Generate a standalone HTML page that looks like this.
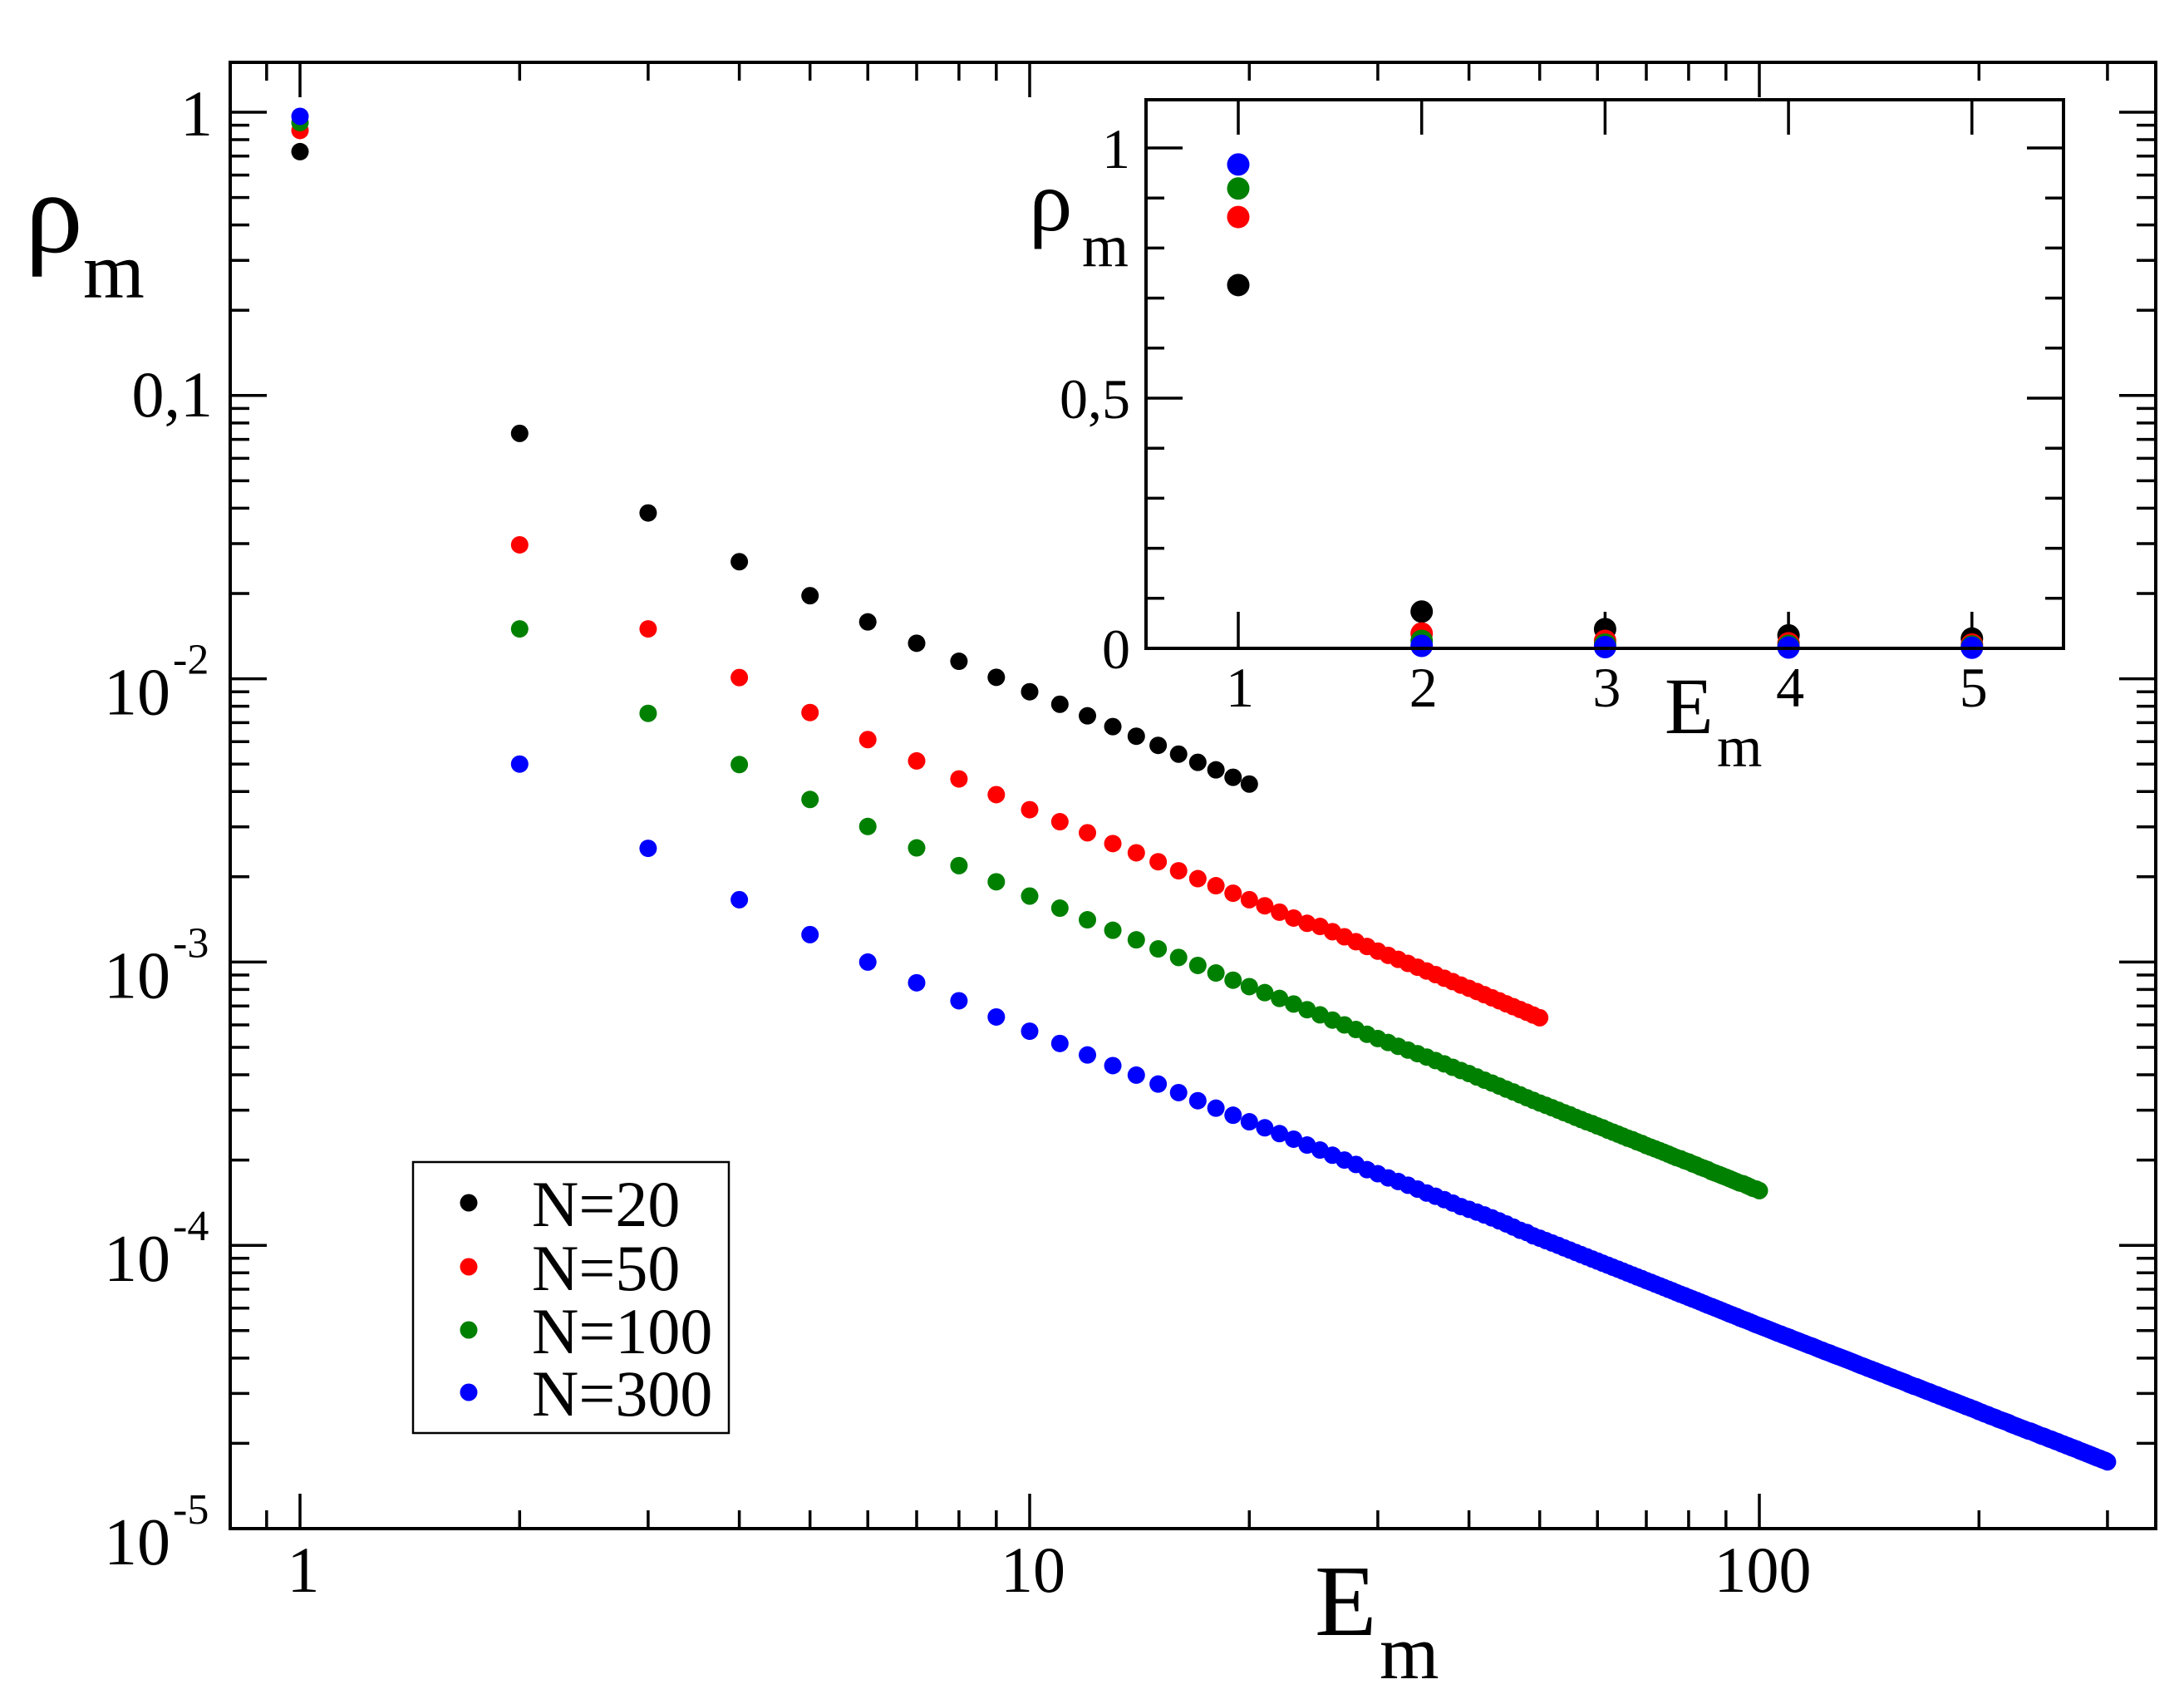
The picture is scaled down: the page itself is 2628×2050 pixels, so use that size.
<!DOCTYPE html>
<html><head><meta charset="utf-8"><title>rho_m vs E_m</title>
<style>html,body{margin:0;padding:0;background:#fff;}svg{display:block;}text{font-family:"Liberation Serif",serif;fill:#000;}</style>
</head><body>
<svg id="chart" width="2628" height="2050" viewBox="0 0 2628 2050" xmlns="http://www.w3.org/2000/svg"></svg>
<script>
// ---- data (index i -> E_m = i+1) ----
const seriesNames = ["N=20","N=50","N=100","N=300"];
const seriesColors = ["#000000","#ff0000","#008000","#0000ff"];
const rhoN20 = [0.726,0.0735,0.0385,0.0259,0.01965,0.01588,0.01335,0.01153,0.01012,0.0090,0.00813,0.0074,0.00678,0.00627,0.00582,0.00542,0.00507,0.00477,0.00449,0.00425];
const rhoN50 = [0.862,0.0297,0.0150,0.0101,0.0076,0.0061,0.00513,0.00443,0.0039,0.00345,0.00313,0.00286,0.00262,0.00243,0.00226,0.0021,0.00197,0.00186,0.00175,0.00166,0.00158,0.0015,0.00143,0.00137,0.001336,0.00128,0.001228,0.00118,0.001135,0.001093,0.001056,0.001022,0.000989,0.000959,0.00093,0.000903,0.000877,0.000853,0.000829,0.000808,0.000787,0.000767,0.000748,0.00073,0.000712,0.000696,0.00068,0.000665,0.00065,0.000636];
// N=100 values in units of 1e-4
const rhoN100e4 = [9190,150,75.5,49.8,37.5,30.1,25.3,21.9,19.2,17.1,
15.5,14.1,12.95,11.98,11.13,10.38,9.73,9.15,8.63,8.19,
7.80,7.44,7.11,6.79,6.51,6.24,6.00,5.78,5.56,5.37,
5.20,5.04,4.89,4.75,4.62,4.49,4.37,4.25,4.14,4.04,
3.93,3.83,3.74,3.65,3.56,3.48,3.40,3.32,3.25,3.18,
3.12,3.06,3.00,2.94,2.89,2.83,2.78,2.73,2.69,2.64,
2.60,2.55,2.51,2.47,2.43,2.39,2.36,2.32,2.29,2.25,
2.22,2.19,2.16,2.13,2.10,2.07,2.04,2.02,1.99,1.97,
1.94,1.92,1.89,1.87,1.85,1.82,1.80,1.78,1.76,1.74,
1.72,1.70,1.68,1.66,1.65,1.63,1.61,1.59,1.58,1.56];
// N=300 values in units of 1e-5
const rhoN300e5 = [96700,500,252,166,125,100,84.5,73.0,64.0,57.0,
51.6,47.0,43.1,39.9,37.1,34.6,32.4,30.5,28.8,27.3,
26.0,24.8,23.7,22.6,21.7,20.8,20.0,19.3,18.5,17.9,
17.3,16.8,16.3,15.8,15.3,14.9,14.5,14.1,13.7,13.4,
13.1,12.8,12.5,12.2,11.9,11.6,11.3,11.1,10.8,10.6,
10.39,10.19,10.0,9.80,9.62,9.44,9.27,9.11,8.95,8.80,
8.65,8.51,8.37,8.24,8.11,7.98,7.86,7.74,7.63,7.51,
7.41,7.30,7.20,7.10,7.00,6.91,6.81,6.72,6.64,6.55,
6.47,6.39,6.31,6.23,6.15,6.08,6.01,5.94,5.87,5.80,
5.73,5.67,5.61,5.54,5.48,5.43,5.37,5.31,5.25,5.20,
5.15,5.10,5.05,5.00,4.95,4.90,4.86,4.81,4.77,4.73,
4.68,4.64,4.60,4.56,4.52,4.48,4.44,4.41,4.37,4.33,
4.29,4.26,4.22,4.19,4.16,4.12,4.09,4.06,4.03,4.00,
3.97,3.94,3.91,3.88,3.85,3.82,3.79,3.76,3.74,3.71,
3.68,3.66,3.63,3.61,3.58,3.56,3.53,3.51,3.49,3.46,
3.44,3.42,3.39,3.37,3.35,3.33,3.31,3.29,3.27,3.24,
3.22,3.20,3.18,3.17,3.15,3.13,3.11,3.09,3.07,3.05,
3.04,3.02,3.00,2.98,2.97,2.95,2.93,2.92,2.90,2.88,
2.87,2.85,2.84,2.82,2.81,2.79,2.78,2.76,2.75,2.73,
2.72,2.70,2.69,2.68,2.66,2.65,2.64,2.62,2.61,2.59,
2.58,2.57,2.55,2.54,2.53,2.52,2.50,2.49,2.48,2.47,
2.46,2.44,2.43,2.42,2.41,2.40,2.39,2.38,2.37,2.36,
2.34,2.33,2.32,2.31,2.30,2.29,2.28,2.27,2.26,2.25,
2.24,2.23,2.22,2.21,2.21,2.20,2.19,2.18,2.17,2.16,
2.15,2.14,2.13,2.12,2.12,2.11,2.10,2.09,2.08,2.07,
2.07,2.06,2.05,2.04,2.03,2.03,2.02,2.01,2.00,1.99,
1.99,1.98,1.97,1.96,1.96,1.95,1.94,1.93,1.93,1.92,
1.91,1.91,1.90,1.89,1.88,1.88,1.87,1.86,1.86,1.85,
1.84,1.84,1.83,1.82,1.82,1.81,1.80,1.80,1.79,1.78,
1.78,1.77,1.77,1.76,1.75,1.75,1.74,1.74,1.73,1.72];
const xTickLabels = ["1","10","100"];
const xTickValues = [1,10,100];
const yTickExps = [0,-1,-2,-3,-4,-5];
const insetXTicks = [1,2,3,4,5];
const insetYTicks = [0,0.5,1];
const insetYTickLabels = ["0","0,5","1"];

const rhoN100 = rhoN100e4.map(v => v * 1e-4);
const rhoN300 = rhoN300e5.map(v => v * 1e-5);
const allSeries = [rhoN20, rhoN50, rhoN100, rhoN300];

// ---- scales ----
const M = {l:277, r:2594, t:75, b:1839};
const X = m => 361 + 878 * Math.log10(m);
const Y = v => 135 - 340.8 * Math.log10(v);
const I = {l:1379, r:2483, t:120, b:780};
const IX = x => 1490 + 220.7 * (x - 1);
const IY = v => 780 - 602 * v;

const svg = document.getElementById('chart');
const NS = 'http://www.w3.org/2000/svg';
function mk(tag, attrs, parent) {
  const el = document.createElementNS(NS, tag);
  for (const k in attrs) el.setAttribute(k, attrs[k]);
  (parent || svg).appendChild(el);
  return el;
}
function line(x1,y1,x2,y2,w,name,parent){
  const el = mk('line',{x1:x1,y1:y1,x2:x2,y2:y2,stroke:'#000','stroke-width':w},parent);
  
  
  return el;
}
function txt(x,y,s,size,anchor,name,parent){
  const el = mk('text',{x:x,y:y,'font-size':size,'text-anchor':anchor||'start'},parent);
  el.textContent = s;
  
  
  return el;
}

// ---- main plot ----
const mainG = mk('g',{});


const frame = mk('rect',{x:M.l,y:M.t,width:M.r-M.l,height:M.b-M.t,fill:'none',stroke:'#000','stroke-width':4},mainG);



const xMin = Math.pow(10,(M.l-361)/878), xMax = Math.pow(10,(M.r-361)/878);
[0.1,1,10,100].forEach(d => {
  for (let k=1;k<=9;k++){
    const v = k*d; if (v < xMin || v > xMax) continue;
    const x = X(v), len = (k===1)?42:22;
    line(x,M.b,x,M.b-len,3.5,'x-tick-bottom',mainG);
    line(x,M.t,x,M.t+len,3.5,'x-tick-top',mainG);
  }
});
xTickValues.forEach((v,i) => txt(X(v)+4, 1915, xTickLabels[i], 78, 'middle', 'x-tick-label', mainG));
[1e-5,1e-4,1e-3,1e-2,1e-1,1].forEach(d => {
  for (let k=1;k<=9;k++){
    const v = k*d; const y = Y(v);
    if (y < M.t || y > M.b) continue;
    const len = (k===1)?44:23;
    line(M.l,y,M.l+len,y,3.5,'y-tick-left',mainG);
    line(M.r,y,M.r-len,y,3.5,'y-tick-right',mainG);
  }
});
yTickExps.forEach(e => {
  const y = Y(Math.pow(10,e));
  if (e === 0) txt(256, y+28, '1', 78, 'end', 'y-tick-label', mainG);
  else if (e === -1) txt(256, y+25, '0,1', 78, 'end', 'y-tick-label', mainG);
  else {
    txt(205, y+43, '10', 80, 'end', 'y-tick-label', mainG);
    txt(208, y-6, '-' + (-e), 52, 'start', 'y-tick-label-exponent', mainG);
  }
});
txt(30, 303, 'ρ', 140, 'start', 'y-axis-title', mainG);
txt(100, 358, 'm', 95, 'start', 'y-axis-title-subscript', mainG);
txt(1582, 1967, 'E', 122, 'start', 'x-axis-title', mainG);
txt(1660, 2019, 'm', 92, 'start', 'x-axis-title-subscript', mainG);

allSeries.forEach((arr, s) => {
  const g = mk('g',{fill:seriesColors[s]},mainG);
  
  
  arr.forEach((v,i) => {
    const c = mk('circle',{cx:X(i+1),cy:Y(v),r:10.5},g);
    
    
  });
});

// legend
const lg = mk('g',{});


const lbox = mk('rect',{x:497,y:1398,width:380,height:326,fill:'#fff',stroke:'#000','stroke-width':2.5},lg);


const legendY = [1447,1524,1600,1675];
seriesNames.forEach((n,i) => {
  const c = mk('circle',{cx:564,cy:legendY[i],r:10.5,fill:seriesColors[i]},lg);
  
  
  txt(640, legendY[i]+28, n, 78, 'start', 'legend-entry', lg);
});

// ---- inset ----
const ig = mk('g',{});


const ibg = mk('rect',{x:I.l,y:I.t,width:I.r-I.l,height:I.b-I.t,fill:'#fff',stroke:'none'},ig);


insetXTicks.forEach(v => {
  line(IX(v),I.b,IX(v),I.b-44,3.5,'inset-x-tick-bottom',ig);
  line(IX(v),I.t,IX(v),I.t+42,3.5,'inset-x-tick-top',ig);
  txt(IX(v)+2, 850, String(v), 68, 'middle', 'inset-x-tick-label', ig);
});
for (let k=0;k<=10;k++){
  const v = k/10, y = IY(v), major = (k%5===0), len = major?44:22;
  line(I.l,y,I.l+len,y,3.5,'inset-y-tick-left',ig);
  line(I.r,y,I.r-len,y,3.5,'inset-y-tick-right',ig);
}
insetYTicks.forEach((v,i) => txt(1360, IY(v)+24, insetYTickLabels[i], 68, 'end', 'inset-y-tick-label', ig));
txt(1238, 277, 'ρ', 105, 'start', 'inset-y-axis-title', ig);
txt(1302, 320, 'm', 72, 'start', 'inset-y-axis-title-subscript', ig);
txt(2003, 882, 'E', 96, 'start', 'inset-x-axis-title', ig);
txt(2066, 922, 'm', 70, 'start', 'inset-x-axis-title-subscript', ig);
allSeries.forEach((arr, s) => {
  const g = mk('g',{fill:seriesColors[s]},ig);
  
  
  arr.slice(0,5).forEach((v,i) => {
    const c = mk('circle',{cx:IX(i+1),cy:IY(v),r:13.5},g);
    
    
  });
});
const iframe = mk('rect',{x:I.l,y:I.t,width:I.r-I.l,height:I.b-I.t,fill:'none',stroke:'#000','stroke-width':4},ig);


</script>
</body></html>
